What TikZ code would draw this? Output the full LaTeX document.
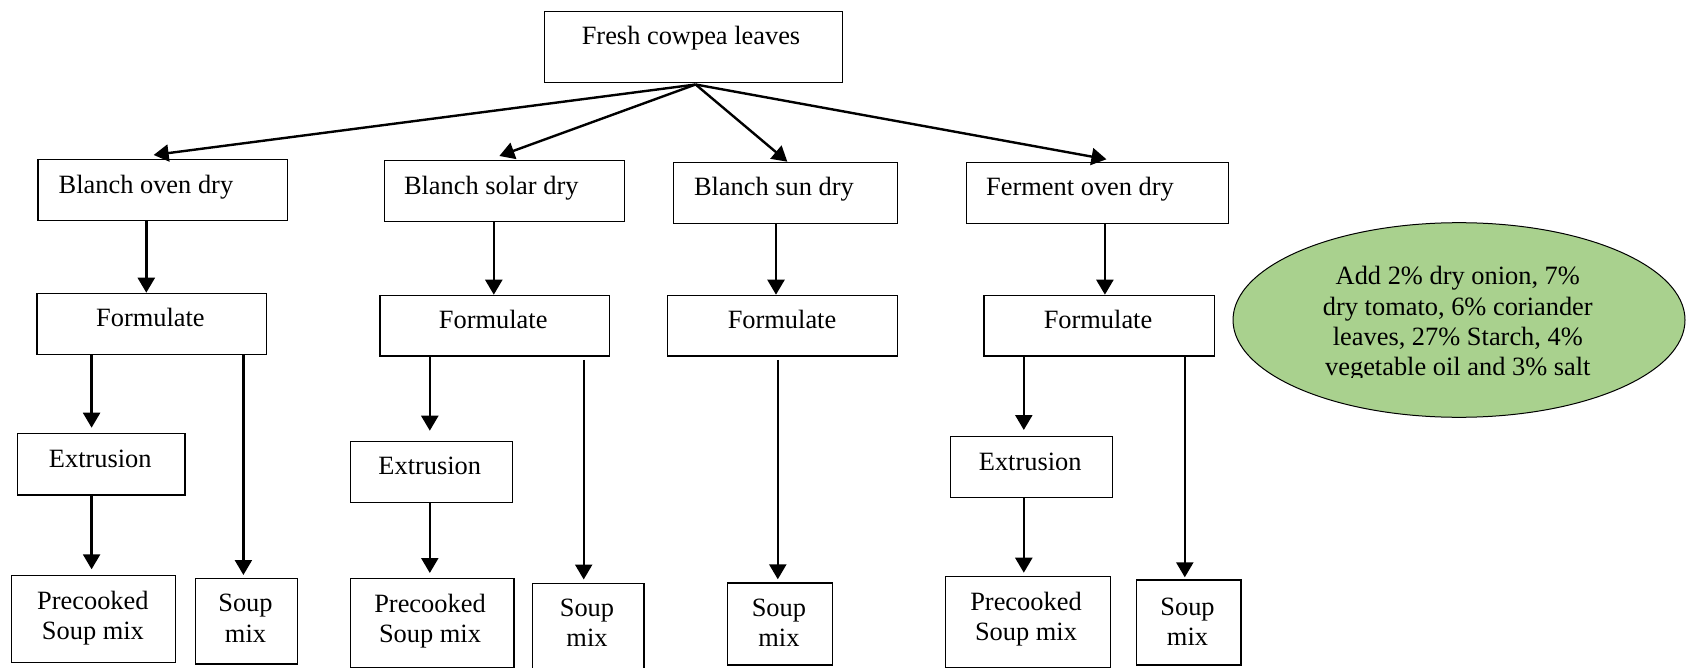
\documentclass[tikz,border=0pt]{standalone}
\usepackage{fontspec}
\setmainfont{Liberation Serif}
\usetikzlibrary{arrows.meta,shapes.geometric}
\definecolor{leafgreen}{RGB}{169,209,142}
\begin{document}
\begin{tikzpicture}[x=1pt,y=-1pt,
  box/.style={draw, line width=1.2pt, rectangle, inner sep=0pt, anchor=north west},
  txt/.style={inner sep=0pt, font=\fontsize{26.4}{30}\selectfont},
  arr/.style={line width=2.4pt, -{Triangle[length=15pt,width=17pt]}}]
\clip (0,0) rectangle (1686,668);

% top source box
\node[box, minimum width=298.2, minimum height=71.6] (fresh) at (543.5,10.7) {};
\node[txt, anchor=base west] at (581.6,45) {Fresh cowpea leaves};

% processing treatments
\node[box, minimum width=249.3, minimum height=61.3] (bod)  at (37.4,158.7) {};
\node[box, minimum width=240.1, minimum height=61.3] (bsol) at (383.7,160) {};
\node[box, minimum width=224.3, minimum height=61]   (bsun) at (672.6,161.7) {};
\node[box, minimum width=261.3, minimum height=61]   (fod)  at (966.2,161.7) {};
\node[txt, anchor=base west] at (58.5,193.3) {Blanch oven dry};
\node[txt, anchor=base west] at (403.8,194.3) {Blanch solar dry};
\node[txt, anchor=base west] at (693.8,196) {Blanch sun dry};
\node[txt, anchor=base west] at (986,196) {Ferment oven dry};

% formulation step
\node[box, minimum width=229.7, minimum height=61.3] (form1) at (36.3,292.7) {};
\node[box, minimum width=229.8, minimum height=60.6] (form2) at (379.4,294.7) {};
\node[box, minimum width=229.7, minimum height=60.6] (form3) at (667.2,294.7) {};
\node[box, minimum width=230.3, minimum height=60.6] (form4) at (983.3,294.7) {};
\node[txt, anchor=base] at (150.4,326.7) {Formulate};
\node[txt, anchor=base] at (493.2,328.3) {Formulate};
\node[txt, anchor=base] at (782,328.3) {Formulate};
\node[txt, anchor=base] at (1098,328.3) {Formulate};

% extrusion step
\node[box, minimum width=167.5, minimum height=61.6] (ext1) at (16.8,432.7) {};
\node[box, minimum width=162.1, minimum height=61]   (ext2) at (349.6,440.7) {};
\node[box, minimum width=162.1, minimum height=61]   (ext4) at (949.7,436) {};
\node[txt, anchor=base] at (100.3,467.3) {Extrusion};
\node[txt, anchor=base] at (429.8,474.3) {Extrusion};
\node[txt, anchor=base] at (1030.2,470.7) {Extrusion};

% end products
\node[box, minimum width=164.2, minimum height=86.7] (pre1)  at (10.8,575) {};
\node[box, minimum width=163.7, minimum height=89.3] (pre2)  at (349.6,578) {};
\node[box, minimum width=164.7, minimum height=91.3] (pre4)  at (944.9,576) {};
\node[box, minimum width=101.5, minimum height=85.6] (soup1) at (195,577.7) {};
\node[box, minimum width=111.2, minimum height=100]  (soup2) at (532.2,582.5) {};
\node[box, minimum width=105.2, minimum height=82]   (soup3) at (726.8,582.3) {};
\node[box, minimum width=104.5, minimum height=85]   (soup4) at (1135.8,579.3) {};

\node[txt, anchor=base] at (92.9,609.3) {Precooked};
\node[txt, anchor=base] at (92.9,639.3) {Soup mix};
\node[txt, anchor=base] at (430,612) {Precooked};
\node[txt, anchor=base] at (430,642.5) {Soup mix};
\node[txt, anchor=base] at (1026,610) {Precooked};
\node[txt, anchor=base] at (1026,640.7) {Soup mix};
\node[txt, anchor=base] at (245.5,611.7) {Soup};
\node[txt, anchor=base] at (245.5,642.3) {mix};
\node[txt, anchor=base] at (587,616.7) {Soup};
\node[txt, anchor=base] at (587,646.7) {mix};
\node[txt, anchor=base] at (778.9,616.7) {Soup};
\node[txt, anchor=base] at (778.9,646.7) {mix};
\node[txt, anchor=base] at (1187.5,615) {Soup};
\node[txt, anchor=base] at (1187.5,645) {mix};

% added ingredients
\node[draw, ellipse, fill=leafgreen, line width=1pt, inner sep=0pt,
      minimum width=452, minimum height=194.6] (adds) at (1459,320) {};
\begin{scope}
  \clip (1230,230) rectangle (1686,377.5);
  \node[txt, anchor=base] at (1457.8,285) {Add 2\% dry onion, 7\%};
  \node[txt, anchor=base] at (1457.8,315) {dry tomato, 6\% coriander};
  \node[txt, anchor=base] at (1457.8,345) {leaves, 27\% Starch, 4\%};
  \node[txt, anchor=base] at (1457.8,375) {vegetable oil and 3\% salt};
\end{scope}

% connectors from the fresh leaves
\draw[arr] ([xshift=2.4pt,yshift=-1pt]fresh.south) -- ([xshift=-9pt,yshift=3.7pt]bod.north);
\draw[arr] ([xshift=2.4pt,yshift=-1pt]fresh.south) -- ([xshift=-5pt,yshift=4pt]bsol.north);
\draw[arr] ([xshift=2.4pt,yshift=-1pt]fresh.south) -- ([xshift=2pt]bsun.north);
\draw[arr] ([xshift=2.4pt,yshift=-1pt]fresh.south) -- ([xshift=9pt,yshift=2.4pt]fod.north);

% column positions of the vertical connectors
\coordinate (cA) at (146.3,0);
\coordinate (cB) at (493.8,0);
\coordinate (cC) at (776,0);
\coordinate (cD) at (1104.9,0);
\coordinate (eA) at (91.6,0);
\coordinate (sA) at (243.4,0);
\coordinate (eB) at (429.8,0);
\coordinate (sB) at (583.7,0);
\coordinate (sC) at (777.8,0);
\coordinate (eD) at (1023.8,0);
\coordinate (sD) at (1184.8,0);

\draw[arr] (cA |- bod.south)  -- (cA |- form1.north);
\draw[arr] (cB |- bsol.south) -- (cB |- form2.north);
\draw[arr] (cC |- bsun.south) -- (cC |- form3.north);
\draw[arr] (cD |- fod.south)  -- (cD |- form4.north);

\draw[arr, shorten >=5pt]  (eA |- form1.south) -- (eA |- ext1.north);
\draw[arr, shorten >=5.7pt] (eA |- ext1.south) -- (eA |- pre1.north);
\draw[arr, shorten >=2.7pt] (sA |- form1.south) -- (sA |- soup1.north);

\draw[arr, shorten >=10pt] (eB |- form2.south) -- (eB |- ext2.north);
\draw[arr, shorten >=5pt]  (eB |- ext2.south) -- (eB |- pre2.north);
\draw[arr, shorten <=3.4pt, shorten >=3pt] (sB |- form2.south) -- (sB |- soup2.north);

\draw[arr, shorten <=3.4pt, shorten >=3pt] (sC |- form3.south) -- (sC |- soup3.north);

\draw[arr, shorten >=6pt]   (eD |- form4.south) -- (eD |- ext4.north);
\draw[arr, shorten >=3.3pt] (eD |- ext4.south) -- (eD |- pre4.north);
\draw[arr, shorten >=2pt]   (sD |- form4.south) -- (sD |- soup4.north);
\end{tikzpicture}
\end{document}
